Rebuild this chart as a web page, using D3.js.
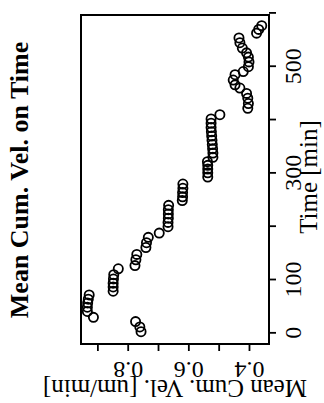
<!DOCTYPE html>
<html><head><meta charset="utf-8">
<script src="https://cdn.jsdelivr.net/npm/d3@7"></script>
<style>body{margin:0;background:#fff}svg{display:block}</style>
</head><body>
<svg id="c" width="324" height="403"></svg>
<script>
const titleText = "Mean Cum. Vel. on Time";
const xLabel = "Time [min]";
const yLabel = "Mean Cum. Vel. [um/min]";

const timeMin = [3, 12, 22,
  30, 41, 49, 57, 64, 72,
  79, 87, 94, 102, 110, 121,
  127, 138, 148,
  161, 170, 180, 188,
  200, 208, 216, 224, 232, 240,
  249, 256, 264, 272, 280,
  293, 301, 308, 315, 322,
  330, 338, 346, 354, 362, 370, 378, 386, 394, 402, 410,
  422, 431, 441, 450,
  460, 466, 475, 485, 491,
  500, 509, 518,
  526, 535, 545, 554,
  563, 570, 577];
const meanCumVel = [0.756, 0.760, 0.774,
  0.913, 0.933, 0.933, 0.932, 0.930, 0.927,
  0.848, 0.848, 0.848, 0.847, 0.846, 0.831,
  0.776, 0.773, 0.770,
  0.740, 0.738, 0.732, 0.696,
  0.667, 0.667, 0.666, 0.666, 0.666, 0.665,
  0.620, 0.619, 0.619, 0.618, 0.618,
  0.536, 0.536, 0.536, 0.536, 0.537,
  0.519, 0.519, 0.520, 0.521, 0.522, 0.523, 0.524, 0.525, 0.525, 0.525, 0.496,
  0.404, 0.402, 0.404, 0.408,
  0.430, 0.446, 0.452, 0.446, 0.419,
  0.402, 0.400, 0.402,
  0.408, 0.422, 0.430, 0.433,
  0.375, 0.368, 0.358];

const timeTicks = [0, 100, 200, 300, 400, 500, 600];
const timeTickLabels = [0, 100, 300, 500];
const velTicks = [0.4, 0.5, 0.6, 0.7, 0.8, 0.9];
const velTickLabels = [0.4, 0.6, 0.8];

const FONT = "'Liberation Serif','Times New Roman',serif";
const svg = d3.select("#c");
// the whole chart is drawn as a normal plot, then turned a quarter turn counter-clockwise
const g = svg.append("g").attr("transform", "translate(0,403) rotate(-90)");

const x = d3.scaleLinear().domain([-20, 597]).range([59, 388]);
const y = d3.scaleLinear().domain([0.334, 0.954]).range([269, 81]);

// points
g.append("g").selectAll("circle").data(timeMin).join("circle")
  .attr("cx", (d) => x(d))
  .attr("cy", (d, i) => y(meanCumVel[i]))
  .attr("r", 4.6)
  .attr("fill", "none")
  .attr("stroke", "#000")
  .attr("stroke-width", 1.8);

// time axis
const xa = g.append("g").attr("transform", `translate(0,${y.range()[0]})`)
  .call(d3.axisBottom(x).tickValues(timeTicks).tickSize(7).tickSizeOuter(0).tickPadding(8)
    .tickFormat((d) => timeTickLabels.includes(d) ? String(d) : ""));
xa.select(".domain").remove();
xa.selectAll("line").attr("stroke", "#000").attr("stroke-width", 1.8);
xa.selectAll("text").attr("font-family", FONT).attr("font-size", 24).attr("fill", "#000");

// velocity axis
const ya = g.append("g").attr("transform", `translate(${x.range()[0]},0)`)
  .call(d3.axisLeft(y).tickValues(velTicks).tickSize(7).tickSizeOuter(0)
    .tickFormat((d) => velTickLabels.some((v) => Math.abs(v - d) < 1e-9) ? d3.format(".1f")(d) : ""));
ya.select(".domain").remove();
ya.selectAll("line").attr("stroke", "#000").attr("stroke-width", 1.8);
ya.selectAll("text")
  .attr("font-family", FONT).attr("font-size", 24).attr("fill", "#000")
  .attr("x", null).attr("dy", null).attr("text-anchor", "middle")
  .attr("transform", "translate(-18,0) rotate(-90)");

// frame
g.append("rect")
  .attr("x", x.range()[0]).attr("y", y.range()[1])
  .attr("width", x.range()[1] - x.range()[0]).attr("height", y.range()[0] - y.range()[1])
  .attr("fill", "none").attr("stroke", "#000").attr("stroke-width", 2);

// labels
g.append("text").attr("x", 223).attr("y", 28).attr("text-anchor", "middle")
  .attr("font-family", FONT).attr("font-weight", "bold").attr("font-size", 26).text(titleText);
g.append("text").attr("x", 226).attr("y", 317).attr("text-anchor", "middle")
  .attr("font-family", FONT).attr("font-size", 25).text(xLabel);
g.append("text").attr("transform", `translate(23,${(y.range()[0] + y.range()[1]) / 2}) rotate(-90)`)
  .attr("text-anchor", "middle")
  .attr("font-family", FONT).attr("font-size", 25).text(yLabel);
</script>
</body></html>
